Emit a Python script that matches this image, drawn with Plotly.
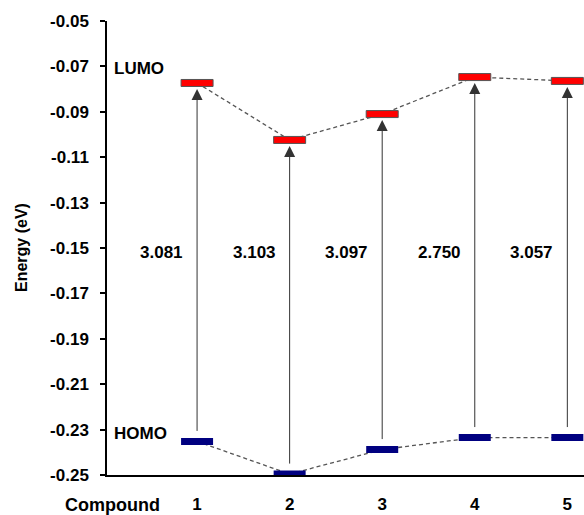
import plotly.graph_objects as go

compounds = [1, 2, 3, 4, 5]
compound_labels = ["1", "2", "3", "4", "5"]
lumo = [-0.0773, -0.1024, -0.0910, -0.0747, -0.0764]
homo = [-0.2352, -0.2496, -0.2388, -0.2335, -0.2335]
gap_labels = ["3.081", "3.103", "3.097", "2.750", "3.057"]
y_ticks = [-0.05, -0.07, -0.09, -0.11, -0.13, -0.15, -0.17, -0.19, -0.21, -0.23, -0.25]
y_ticktext = ["%.2f" % v for v in y_ticks]

FONT = "Liberation Sans, Arial, sans-serif"
fig = go.Figure()

# dashed connecting lines (behind bars)
fig.add_trace(go.Scatter(x=compounds, y=lumo, mode="lines",
                         line=dict(color="#555555", width=1.3, dash="4px,3px"),
                         hoverinfo="skip", showlegend=False))
fig.add_trace(go.Scatter(x=compounds, y=homo, mode="lines",
                         line=dict(color="#555555", width=1.3, dash="4px,3px"),
                         hoverinfo="skip", showlegend=False))

shapes = []
annotations = []
for c, lu, ho, g in zip(compounds, lumo, homo, gap_labels):
    shapes.append(dict(type="rect", xref="x", yref="y", xsizemode="pixel", ysizemode="pixel",
                       xanchor=c, yanchor=lu, x0=-16, x1=16, y0=-3.5, y1=3.5,
                       fillcolor="#ff0000", line=dict(color="#555555", width=1)))
    shapes.append(dict(type="rect", xref="x", yref="y", xsizemode="pixel", ysizemode="pixel",
                       xanchor=c, yanchor=ho, x0=-16, x1=16, y0=-3.5, y1=3.5,
                       fillcolor="#000080", line=dict(color="#000080", width=0)))
    annotations.append(dict(x=c, y=lu, ax=c, ay=ho, xref="x", yref="y", axref="x", ayref="y",
                            text="", showarrow=True, arrowhead=2, arrowsize=2.2, arrowwidth=1,
                            arrowcolor="#333333", standoff=6, startstandoff=9))
    annotations.append(dict(x=c, y=-0.1522, xref="x", yref="y", text=g, showarrow=False,
                            xanchor="right", yanchor="middle", xshift=-12,
                            font=dict(family=FONT, size=17, color="black", weight="bold")))

annotations += [
    dict(xref="paper", yref="y", x=0, y=-0.0709, xshift=5, xanchor="left", yanchor="middle",
         text="LUMO", showarrow=False, font=dict(family=FONT, size=17, color="black", weight="bold")),
    dict(xref="paper", yref="y", x=0, y=-0.2315, xshift=5, xanchor="left", yanchor="middle",
         text="HOMO", showarrow=False, font=dict(family=FONT, size=17, color="black", weight="bold")),
    dict(xref="paper", yref="paper", x=0, y=0, xshift=5, yshift=-30, xanchor="center", yanchor="middle",
         text="Compound", showarrow=False, font=dict(family=FONT, size=18, color="black", weight="bold")),
    dict(xref="paper", yref="paper", x=0, y=0.5, xshift=-86, xanchor="center", yanchor="middle",
         text="Energy (eV)", textangle=-90, showarrow=False,
         font=dict(family=FONT, size=16, color="black", weight="bold")),
]

fig.update_layout(
    width=584, height=515,
    margin=dict(l=107, r=0, t=21, b=40, autoexpand=False),
    paper_bgcolor="white", plot_bgcolor="white",
    shapes=shapes, annotations=annotations,
    showlegend=False,
    xaxis=dict(range=[0.027, 5.18], tickvals=compounds, ticktext=compound_labels, automargin=False,
               showgrid=False, zeroline=False, showline=True, linecolor="black", linewidth=2,
               ticks="", ticklabelstandoff=13,
               tickfont=dict(family=FONT, size=17, color="black", weight="bold")),
    yaxis=dict(range=[-0.25, -0.05], tickvals=y_ticks, ticktext=y_ticktext, automargin=False,
               showgrid=False, zeroline=False, showline=True, linecolor="black", linewidth=1.5,
               ticks="outside", ticklen=5, tickwidth=1.5, tickcolor="black", ticklabelstandoff=8,
               tickfont=dict(family=FONT, size=17, color="black", weight="bold")),
)

fig.write_html("out.html")
